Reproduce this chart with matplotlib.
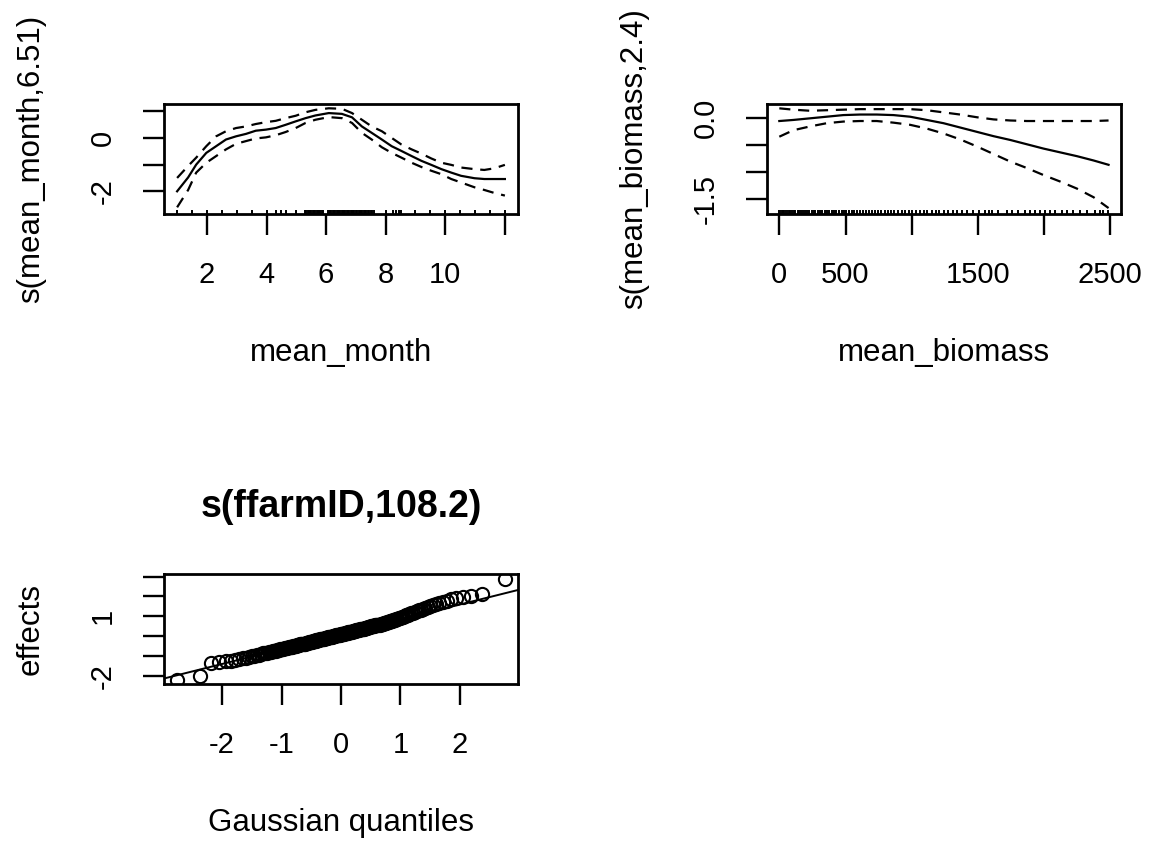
"""
Recreate the mgcv gam.plot panels (two smooth terms + random-effect QQ plot)
with matplotlib only.
"""

from statistics import NormalDist

import matplotlib
matplotlib.use("Agg")
import matplotlib.pyplot as plt
import numpy as np

plt.rcParams.update({
    "font.family": ["Liberation Sans", "DejaVu Sans"],
    "axes.linewidth": 2.0,
    "axes.edgecolor": "black",
    "xtick.major.size": 15,
    "ytick.major.size": 15,
    "xtick.major.width": 1.7,
    "ytick.major.width": 1.7,
    "xtick.major.pad": 19,
    "ytick.major.pad": 19,
    "xtick.labelsize": 21,
    "ytick.labelsize": 21,
    "axes.labelsize": 22.5,
})

# ---- s(mean_month, 6.51) -------------------------------------------------
month_x = [1.0, 1.37, 1.64, 1.98, 2.31, 2.64, 2.98, 3.31, 3.64, 3.98, 4.31,
           4.64, 4.98, 5.31, 5.64, 6.09, 6.53, 6.87, 7.2, 7.53, 7.87, 8.2,
           8.53, 8.87, 9.2, 9.53, 9.87, 10.2, 10.53, 10.98, 11.31, 11.64, 12.0]
month_fit = [-2.0, -1.48, -1.0, -0.56, -0.31, -0.06, 0.06, 0.15, 0.27, 0.31,
             0.37, 0.49, 0.62, 0.74, 0.84, 0.93, 0.90, 0.77, 0.43, 0.19,
             -0.06, -0.31, -0.49, -0.68, -0.86, -1.01, -1.17, -1.30, -1.42,
             -1.51, -1.54, -1.54, -1.54]
month_upper = [-1.5, -1.05, -0.74, -0.31, 0.06, 0.25, 0.37, 0.43, 0.52, 0.59,
               0.64, 0.74, 0.83, 0.96, 1.05, 1.11, 1.09, 0.93, 0.68, 0.43,
               0.25, 0.0, -0.25, -0.43, -0.59, -0.77, -0.93, -1.01, -1.11,
               -1.17, -1.20, -1.14, -1.01]
month_lower = [-2.6, -1.95, -1.30, -0.93, -0.68, -0.43, -0.22, -0.12, -0.02,
               0.02, 0.10, 0.22, 0.37, 0.56, 0.68, 0.78, 0.74, 0.56, 0.19,
               -0.06, -0.35, -0.56, -0.74, -0.93, -1.09, -1.23, -1.36, -1.54,
               -1.67, -1.85, -1.95, -2.06, -2.16]
month_rug = [1.0, 1.5, 2.0, 2.5, 3.0, 3.5, 4.0, 4.33, 4.5, 4.67, 5.0,
             5.28, 5.33, 5.38, 5.42, 5.47, 5.5, 5.55, 5.6, 5.64, 5.68, 5.72,
             5.77, 5.8, 5.85, 5.88, 6.05, 6.1, 6.14, 6.18, 6.22, 6.27, 6.3,
             6.35, 6.4, 6.44, 6.48, 6.52, 6.57, 6.6, 6.65, 6.7, 6.74, 6.78,
             6.82, 6.87, 6.9, 6.95, 7.0, 7.05, 7.1, 7.14, 7.18, 7.22, 7.27,
             7.3, 7.35, 7.4, 7.45, 7.5, 7.55, 7.6, 8.0, 8.25, 8.33, 8.45,
             8.5, 9.0, 9.5, 10.0, 10.5, 11.0, 11.5, 12.0]
month_ticks = [2, 4, 6, 8, 10, 12]
month_ticklabels = ["2", "4", "6", "8", "10", ""]
month_yticks = [1, 0, -1, -2]
month_yticklabels = ["", "0", "", "-2"]

# ---- s(mean_biomass, 2.4) ------------------------------------------------
biomass_x = [0, 106, 232, 358, 484, 610, 736, 862, 988, 1114, 1240, 1366,
             1492, 1618, 1744, 1870, 1996, 2122, 2248, 2374, 2487]
biomass_fit = [-0.05, -0.03, 0.0, 0.03, 0.06, 0.07, 0.07, 0.06, 0.03, -0.03,
               -0.09, -0.17, -0.25, -0.33, -0.40, -0.48, -0.56, -0.63, -0.70,
               -0.78, -0.86]
biomass_upper = [0.185, 0.16, 0.14, 0.15, 0.16, 0.17, 0.17, 0.17, 0.17, 0.15,
                 0.11, 0.07, 0.02, -0.02, -0.04, -0.05, -0.05, -0.05, -0.05,
                 -0.05, -0.04]
biomass_lower = [-0.34, -0.22, -0.15, -0.09, -0.06, -0.05, -0.05, -0.08,
                 -0.12, -0.19, -0.28, -0.39, -0.52, -0.66, -0.80, -0.92,
                 -1.05, -1.17, -1.30, -1.46, -1.66]
biomass_rug = [0, 12, 25, 31, 44, 58, 70, 83, 95, 110, 122, 138, 150, 165,
               181, 196, 210, 228, 245, 260, 272, 290, 310, 325, 342, 360,
               378, 395, 412, 430, 452, 470, 488, 505, 528, 548, 566, 590,
               612, 630, 655, 676, 700, 722, 748, 770, 795, 820, 846, 870,
               898, 925, 950, 978, 1005, 1032, 1060, 1090, 1118, 1150, 1180,
               1210, 1242, 1275, 1310, 1345, 1380, 1420, 1462, 1505, 1550,
               1585, 1604, 1654, 1718, 1755, 1805, 1856, 1893, 1931, 1969,
               2007, 2045, 2082, 2133, 2170, 2220, 2271, 2321, 2384, 2422,
               2447, 2480]
biomass_ticks = [0, 500, 1000, 1500, 2000, 2500]
biomass_ticklabels = ["0", "500", "", "1500", "", "2500"]
biomass_yticks = [0.0, -0.5, -1.0, -1.5]
biomass_yticklabels = ["0.0", "", "", "-1.5"]

# ---- s(ffarmID, 108.2): sorted random effects ----------------------------
farm_effects = [
    -2.20, -2.02, -1.34, -1.30, -1.25, -1.22, -1.18, -1.14, -1.10, -1.07,
    -1.03, -1.00, -0.97, -0.94, -0.92, -0.89, -0.86, -0.84, -0.82, -0.80,
    -0.78, -0.76, -0.74, -0.72, -0.70, -0.68, -0.66, -0.645, -0.63, -0.61,
    -0.595, -0.58, -0.565, -0.55, -0.535, -0.52, -0.505, -0.49, -0.475, -0.46,
    -0.445, -0.43, -0.412, -0.40, -0.39, -0.38, -0.37, -0.355, -0.345, -0.33,
    -0.31, -0.30, -0.285, -0.27, -0.26, -0.245, -0.23, -0.22, -0.21, -0.20,
    -0.185, -0.175, -0.16, -0.15, -0.14, -0.13, -0.12, -0.105, -0.095, -0.085,
    -0.07, -0.06, -0.05, -0.04, -0.03, -0.015, -0.005, 0.005, 0.015, 0.03,
    0.04, 0.05, 0.06, 0.07, 0.08, 0.095, 0.105, 0.115, 0.125, 0.135,
    0.145, 0.16, 0.17, 0.18, 0.19, 0.20, 0.215, 0.225, 0.235, 0.245,
    0.26, 0.27, 0.28, 0.295, 0.305, 0.32, 0.33, 0.34, 0.355, 0.365,
    0.38, 0.39, 0.405, 0.415, 0.43, 0.44, 0.455, 0.47, 0.48, 0.495,
    0.51, 0.525, 0.535, 0.545, 0.555, 0.565, 0.578, 0.59, 0.603, 0.615,
    0.63, 0.648, 0.665, 0.69, 0.71, 0.73, 0.75, 0.77, 0.79, 0.81,
    0.835, 0.86, 0.885, 0.91, 0.935, 0.96, 0.99, 1.02, 1.05, 1.08,
    1.11, 1.145, 1.18, 1.22, 1.26, 1.30, 1.34, 1.38, 1.42, 1.47,
    1.52, 1.57, 1.62, 1.67, 1.72, 1.76, 1.85, 1.92, 1.97, 2.04,
    2.12, 2.88,
]
qq_ticks = [-2, -1, 0, 1, 2]
qq_ticklabels = ["-2", "-1", "0", "1", "2"]
qq_yticks = [3, 2, 1, 0, -1, -2]
qq_yticklabels = ["", "", "1", "", "", "-2"]

DASH = (0, (5, 3.5))


def style_panel(ax, xticks, xlabels, yticks, ylabels, xlabel, ylabel):
    ax.set_xticks(xticks)
    ax.set_xticklabels(xlabels)
    ax.set_yticks(yticks)
    ax.set_yticklabels(ylabels, rotation=90, va="center")
    ax.set_xlabel(xlabel, va="center")
    ax.xaxis.set_label_coords(0.5, -1.264)
    ax.set_ylabel(ylabel, va="center")
    ax.yaxis.set_label_coords(-0.376, 0.5)


def rug(ax, values):
    ax.vlines(values, 0, 0.035, transform=ax.get_xaxis_transform(),
              color="black", lw=1.4)


fig = plt.figure(figsize=(11.52, 8.43), dpi=100)
W, H = 354 / 1152, 110 / 843

# top left: month smooth
ax1 = fig.add_axes([164 / 1152, 1 - 214 / 843, W, H])
ax1.plot(month_x, month_fit, color="black", lw=1.6)
ax1.plot(month_x, month_upper, color="black", lw=1.6, ls=DASH)
ax1.plot(month_x, month_lower, color="black", lw=1.6, ls=DASH)
rug(ax1, month_rug)
ax1.set_xlim(0.56, 12.44)
ax1.set_ylim(-2.85, 1.27)
style_panel(ax1, month_ticks, month_ticklabels, month_yticks,
            month_yticklabels, "mean_month", "s(mean_month,6.51)")

# top right: biomass smooth
ax2 = fig.add_axes([767 / 1152, 1 - 214 / 843, W, H])
ax2.plot(biomass_x, biomass_fit, color="black", lw=1.6)
ax2.plot(biomass_x, biomass_upper, color="black", lw=1.6, ls=DASH)
ax2.plot(biomass_x, biomass_lower, color="black", lw=1.6, ls=DASH)
rug(ax2, biomass_rug)
ax2.set_xlim(-93, 2581)
ax2.set_ylim(-1.77, 0.265)
style_panel(ax2, biomass_ticks, biomass_ticklabels, biomass_yticks,
            biomass_yticklabels, "mean_biomass", "s(mean_biomass,2.4)")

# bottom left: QQ plot of farm random effects (qqnorm + qqline)
n = len(farm_effects)
nd = NormalDist()
gauss_q = [nd.inv_cdf((i - 0.5) / n) for i in range(1, n + 1)]
q1, q3 = np.quantile(farm_effects, [0.25, 0.75])
z1, z3 = nd.inv_cdf(0.25), nd.inv_cdf(0.75)
slope = (q3 - q1) / (z3 - z1)
intercept = q1 - slope * z1

ax3 = fig.add_axes([164 / 1152, 1 - 684 / 843, W, H])
ax3.plot(gauss_q, farm_effects, "o", mfc="none", mec="black", ms=9.5, mew=1.5)
ax3.axline((0, intercept), slope=slope, color="black", lw=1.4)
ax3.set_xlim(-2.975, 2.975)
ax3.set_ylim(-2.40, 3.13)
style_panel(ax3, qq_ticks, qq_ticklabels, qq_yticks, qq_yticklabels,
            "Gaussian quantiles", "effects")
ax3.set_title("s(ffarmID,108.2)", fontsize=27, fontweight="bold",
              y=1.536, va="center")

fig.savefig("out.png", dpi=100)
